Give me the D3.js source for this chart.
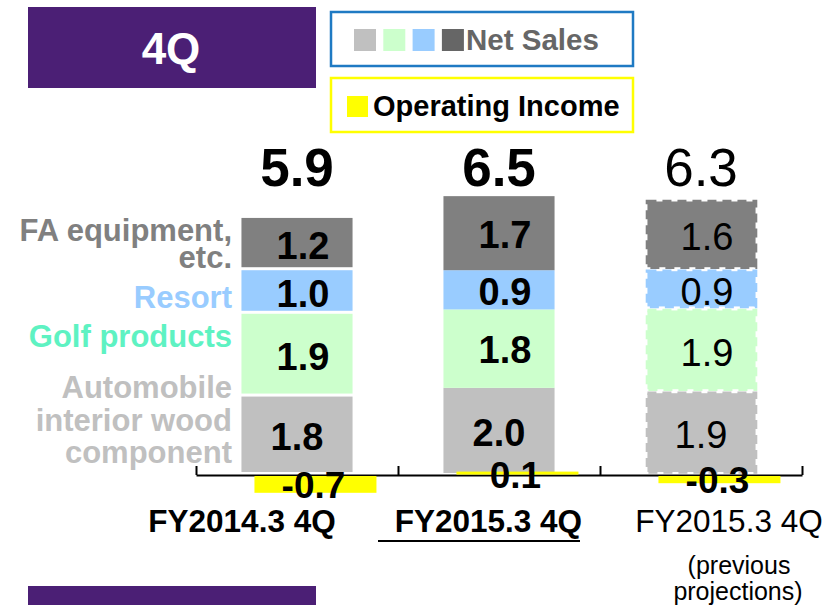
<!DOCTYPE html>
<html>
<head>
<meta charset="utf-8">
<script src="https://cdn.jsdelivr.net/npm/d3@7"></script>
<style>
  body { margin: 0; background: #fff; }
  svg { display: block; font-family: "Liberation Sans", Arial, sans-serif; }
</style>
</head>
<body>
<script>
// chart values
var categories = ["FY2014.3 4Q", " FY2015.3 4Q", "FY2015.3 4Q"];
var segmentNames = ["Automobile interior wood component", "Golf products", "Resort", "FA equipment, etc."];
var automobile = [1.8, 2.0, 1.9];
var golf = [1.9, 1.8, 1.9];
var resort = [1.0, 0.9, 0.9];
var faEquipment = [1.2, 1.7, 1.6];
var netSalesTotal = [5.9, 6.5, 6.3];
var operatingIncome = [-0.7, 0.1, -0.3];

var width = 825, height = 605;

// plain hyphen for negatives, like the slide
var fmt = d3.formatLocale({ decimal: ".", thousands: ",", grouping: [3], currency: ["", ""], minus: "-" }).format(".1f");

//-----------------------------------------------------------------------------------
// scales
//-----------------------------------------------------------------------------------
var x = d3.scaleBand().domain(d3.range(categories.length))
            .range([196, 802]).paddingInner(0.45).paddingOuter(0.225);
var yNS = d3.scaleLinear().domain([0, 7]).range([475, 170]);
var yOI = d3.scaleLinear().domain([-1, 1]).range([499, 451]);

var segColors = ["#c0c0c0", "#ccffcc", "#99ccff", "#808080"];
// bar 1 has white gaps, bar 2 is plain, bar 3 is the dashed projection
var barStyle = ["gap", "plain", "dashed"];

var svg = d3.select("body").append("svg")
            .attr("width", width)
            .attr("height", height);

// header boxes
svg.append("rect").attr("x", 28).attr("y", 7).attr("width", 288).attr("height", 81).style("fill", "#4b1f75");
svg.append("text").text("4Q").attr("x", 171).attr("y", 64)
    .attr("text-anchor", "middle").style("font-size", "44px").style("font-weight", "bold").style("fill", "#fff");
svg.append("rect").attr("x", 28).attr("y", 586).attr("width", 288).attr("height", 19).style("fill", "#4b1f75");

//-----------------------------------------------------------------------------------
// legend
//-----------------------------------------------------------------------------------
svg.append("rect").attr("x", 331).attr("y", 12).attr("width", 302).attr("height", 54)
    .style("fill", "#fff").style("stroke", "#1f7ac3").style("stroke-width", 2.5);
var legendSquares = ["#c0c0c0", "#ccffcc", "#99ccff", "#666666"];
svg.selectAll(".lsq").data(legendSquares).enter().append("rect")
    .attr("class", "lsq")
    .attr("x", function(d, i){ return 354 + i*29.3; })
    .attr("y", 29).attr("width", 22).attr("height", 22)
    .style("fill", function(d){ return d; });
svg.append("text").text("Net Sales").attr("x", 466).attr("y", 50)
    .style("font-size", "29.5px").style("font-weight", "bold").style("fill", "#666");

svg.append("rect").attr("x", 331).attr("y", 78).attr("width", 302).attr("height", 54)
    .style("fill", "#fff").style("stroke", "#ffff00").style("stroke-width", 2.5);
svg.append("rect").attr("x", 347).attr("y", 96).attr("width", 21).attr("height", 21).style("fill", "#ffff00");
svg.append("text").text("Operating Income").attr("x", 373).attr("y", 116)
    .style("font-size", "29px").style("font-weight", "bold").style("fill", "#000");

//-----------------------------------------------------------------------------------
// axis (ticks on category boundaries, pointing up)
//-----------------------------------------------------------------------------------
var xEdge = d3.scaleLinear().domain([0, categories.length]).range([196, 802]);
var axis = svg.append("g").attr("transform", "translate(0," + yNS(0) + ")")
    .call(d3.axisTop(xEdge).tickValues(d3.range(categories.length + 1))
              .tickFormat("").tickSize(9).tickSizeOuter(0));
axis.selectAll("path, line").style("stroke", "#000").style("stroke-width", 2);

//-----------------------------------------------------------------------------------
// stacked net sales bars
//-----------------------------------------------------------------------------------
var rows = categories.map(function(c, i){
    return { i: i, seg0: automobile[i], seg1: golf[i], seg2: resort[i], seg3: faEquipment[i] };
});
var stack = d3.stack().keys(["seg0", "seg1", "seg2", "seg3"]);
var layers = stack(rows);

layers.forEach(function(layer, k){
    layer.forEach(function(d){
        var i = d.data.i;
        var style = barStyle[i];
        var y0 = yNS(d[0]), y1 = yNS(d[1]);
        var gapBottom = style === "plain" ? (k === 0 ? 2 : 0) : 3;
        var dashed = style === "dashed";
        var rect = svg.append("rect")
            .attr("x", x(i) + (dashed ? 2 : 0))
            .attr("y", y1 + (dashed ? 1 : 0))
            .attr("width", x.bandwidth() - (dashed ? 3 : 0))
            .attr("height", Math.max(0, y0 - y1 - gapBottom - (dashed ? 1 : 0)))
            .style("fill", segColors[k]);
        if (dashed) {
            rect.style("stroke", segColors[k]).style("stroke-width", 3.5)
                .style("stroke-dasharray", "9,6");
        }
        svg.append("text")
            .text(fmt(d[1] - d[0]))
            .attr("x", x(i) + x.bandwidth()/2 + (k === 0 ? 0 : 6))
            .attr("y", (y0 + y1)/2 + 1)
            .attr("dy", "0.36em")
            .attr("text-anchor", "middle")
            .style("font-size", "38px")
            .style("font-weight", dashed ? "normal" : "bold")
            .style("fill", "#000");
    });
});

// totals
svg.selectAll(".total").data(netSalesTotal).enter().append("text")
    .attr("class", "total")
    .text(function(d){ return fmt(d); })
    .attr("x", function(d, i){ return x(i) + x.bandwidth()/2 + 0; })
    .attr("y", 186)
    .attr("text-anchor", "middle")
    .style("font-size", "53px")
    .style("font-weight", function(d, i){ return barStyle[i] === "dashed" ? "normal" : "bold"; });

//-----------------------------------------------------------------------------------
// operating income bars (own scale, shifted right)
//-----------------------------------------------------------------------------------
var oiX = function(i){ return x(i) + 13; };
var oiW = 122;
svg.selectAll(".oi").data(operatingIncome).enter().append("rect")
    .attr("class", "oi")
    .attr("x", function(d, i){ return oiX(i); })
    .attr("y", function(d){ return d >= 0 ? yOI(d) - 1 : yOI(0) + 1; })
    .attr("width", oiW)
    .attr("height", function(d){ return Math.max(3, Math.abs(yOI(d) - yOI(0))); })
    .style("fill", "#ffff00");

svg.selectAll(".oiLabel").data(operatingIncome).enter().append("text")
    .attr("class", "oiLabel")
    .text(function(d){ return fmt(d); })
    .attr("x", function(d, i){ return oiX(i) + oiW/2 - 2; })
    .attr("y", function(d){ return (yOI(d) + yOI(0))/2 + 1; })
    .attr("dy", "0.36em")
    .attr("text-anchor", "middle")
    .style("font-size", "37px")
    .style("font-weight", "bold");

//-----------------------------------------------------------------------------------
// segment names on the left
//-----------------------------------------------------------------------------------
var sideLabels = [
    { lines: ["FA equipment,", "etc."], y: [241, 268], color: "#808080" },
    { lines: ["Resort"], y: [308], color: "#99ccff" },
    { lines: ["Golf products"], y: [347], color: "#5ef2c2" },
    { lines: ["Automobile", "interior wood", "component"], y: [398, 431, 463], color: "#c0c0c0" }
];
sideLabels.forEach(function(s){
    s.lines.forEach(function(line, j){
        svg.append("text").text(line)
            .attr("x", 232).attr("y", s.y[j])
            .attr("text-anchor", "end")
            .style("font-size", "31px").style("font-weight", "bold")
            .style("fill", s.color);
    });
});

//-----------------------------------------------------------------------------------
// category labels
//-----------------------------------------------------------------------------------
var catOffset = [-55, -15, 28];
categories.forEach(function(c, i){
    svg.append("text").text(c)
        .attr("x", x(i) + x.bandwidth()/2 + catOffset[i])
        .attr("y", 532)
        .attr("text-anchor", "middle")
        .style("font-size", "31.5px")
        .style("font-weight", barStyle[i] === "dashed" ? "normal" : "bold")
        .style("white-space", "pre");
});
// underline of the current quarter
svg.append("line").attr("x1", 378).attr("x2", 580).attr("y1", 541).attr("y2", 541)
    .style("stroke", "#000").style("stroke-width", 2);

svg.append("text").text("(previous").attr("x", 739).attr("y", 574)
    .attr("text-anchor", "middle").style("font-size", "25px");
svg.append("text").text("projections)").attr("x", 738).attr("y", 600)
    .attr("text-anchor", "middle").style("font-size", "25px");
</script>
</body>
</html>
